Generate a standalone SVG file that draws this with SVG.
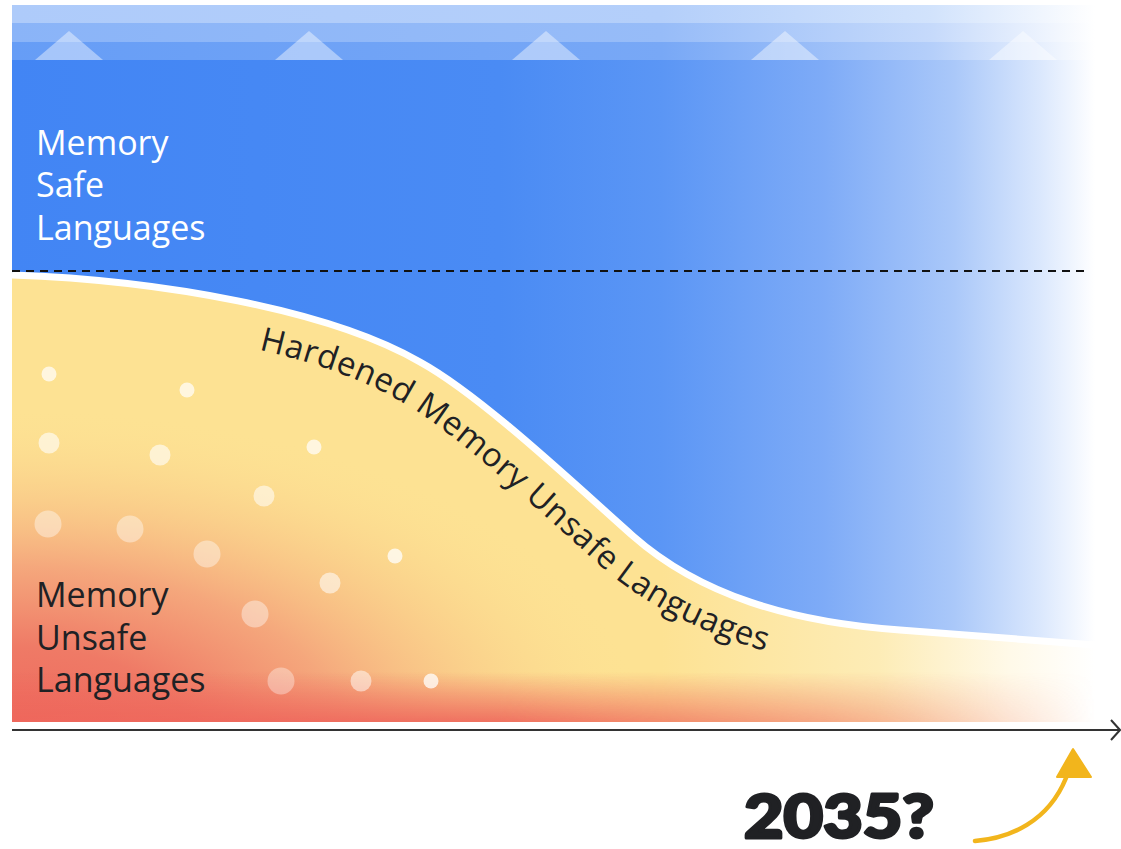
<svg xmlns="http://www.w3.org/2000/svg" width="1121" height="849" viewBox="0 0 1121 849">
  <defs>
    <style>
      .lbl { font-family: "Open Sans", "Liberation Sans", sans-serif; font-size: 34px; }
      .safe { fill: #ffffff; }
      .unsafe { fill: #202124; }
      .curve-lbl { font-family: "Open Sans", "Liberation Sans", sans-serif; font-size: 33px; fill: #202124; }
      .dot { fill: #ffffff; }
      .tri { fill: #ffffff; fill-opacity: 0.42; }
    </style>
    <!-- horizontal fades toward white on the right edge -->
    <linearGradient id="gBlue" gradientUnits="userSpaceOnUse" x1="12" y1="0" x2="1095" y2="0">
      <stop offset="0" stop-color="#4285f4"/>
      <stop offset="0.45" stop-color="#4a8bf4"/>
      <stop offset="0.6" stop-color="#5b96f5"/>
      <stop offset="0.75" stop-color="#7eabf7"/>
      <stop offset="0.87" stop-color="#aac8f9"/>
      <stop offset="0.95" stop-color="#dbe8fd"/>
      <stop offset="1" stop-color="#ffffff"/>
    </linearGradient>
    <linearGradient id="gBand1" gradientUnits="userSpaceOnUse" x1="12" y1="0" x2="1095" y2="0">
      <stop offset="0" stop-color="#aecbfa"/>
      <stop offset="0.6" stop-color="#b4cffa"/>
      <stop offset="0.85" stop-color="#d2e3fc"/>
      <stop offset="1" stop-color="#ffffff"/>
    </linearGradient>
    <linearGradient id="gBand2" gradientUnits="userSpaceOnUse" x1="12" y1="0" x2="1095" y2="0">
      <stop offset="0" stop-color="#8ab4f8"/>
      <stop offset="0.6" stop-color="#97bcf8"/>
      <stop offset="0.85" stop-color="#c6dafb"/>
      <stop offset="1" stop-color="#ffffff"/>
    </linearGradient>
    <linearGradient id="gBand3" gradientUnits="userSpaceOnUse" x1="12" y1="0" x2="1095" y2="0">
      <stop offset="0" stop-color="#669df6"/>
      <stop offset="0.6" stop-color="#78a8f6"/>
      <stop offset="0.85" stop-color="#b5cffa"/>
      <stop offset="1" stop-color="#ffffff"/>
    </linearGradient>
    <linearGradient id="gYellow" gradientUnits="userSpaceOnUse" x1="12" y1="0" x2="1095" y2="0">
      <stop offset="0" stop-color="#fde293"/>
      <stop offset="0.6" stop-color="#fde293"/>
      <stop offset="0.8" stop-color="#fdecb6"/>
      <stop offset="0.92" stop-color="#fff9e8"/>
      <stop offset="1" stop-color="#ffffff"/>
    </linearGradient>
    <radialGradient id="gWarm" gradientUnits="userSpaceOnUse" cx="12" cy="740" r="640"
                    gradientTransform="translate(12 740) scale(1 0.52) translate(-12 -740)">
      <stop offset="0" stop-color="#ee675c"/>
      <stop offset="0.28" stop-color="#ef7a66"/>
      <stop offset="0.52" stop-color="#f4a27a" stop-opacity="0.92"/>
      <stop offset="0.78" stop-color="#f9c887" stop-opacity="0.5"/>
      <stop offset="1" stop-color="#fde293" stop-opacity="0"/>
    </radialGradient>
    <linearGradient id="gRedStrip" gradientUnits="userSpaceOnUse" x1="0" y1="672" x2="0" y2="722">
      <stop offset="0" stop-color="#ee675c" stop-opacity="0"/>
      <stop offset="0.6" stop-color="#ee675c" stop-opacity="0.55"/>
      <stop offset="1" stop-color="#ee675c" stop-opacity="0.9"/>
    </linearGradient>
    <linearGradient id="gStripFade" gradientUnits="userSpaceOnUse" x1="12" y1="0" x2="1095" y2="0">
      <stop offset="0" stop-color="#ffffff"/>
      <stop offset="0.45" stop-color="#ffffff"/>
      <stop offset="0.75" stop-color="#ffffff" stop-opacity="0.55"/>
      <stop offset="0.93" stop-color="#ffffff" stop-opacity="0.15"/>
      <stop offset="1" stop-color="#ffffff" stop-opacity="0"/>
    </linearGradient>
    <mask id="mStrip" maskUnits="userSpaceOnUse" x="0" y="600" width="1121" height="140">
      <rect x="12" y="600" width="1083" height="130" fill="url(#gStripFade)"/>
    </mask>
    <!-- boundary between safe and unsafe areas -->
    <path id="boundary" d="M12,275 C160,280 330,310 420,362 C480,395 570,480 633,536 C700,595 790,622 900,630 C1000,638 1050,642 1095,645"/>
    <path id="labelLine" d="M11,319 C156,324 312,350 398,400 C451,428 541,513 604,569 C678,632 787,666 900,674"/>
    <clipPath id="cUnsafe">
      <path d="M12,275 C160,280 330,310 420,362 C480,395 570,480 633,536 C700,595 790,622 900,630 C1000,638 1050,642 1095,645 L1095,722 L12,722 Z"/>
    </clipPath>
  </defs>

  <rect width="1121" height="849" fill="#ffffff"/>

  <!-- header bands with mountain marks -->
  <g id="header">
    <rect x="12" y="5" width="1083" height="18" fill="url(#gBand1)"/>
    <rect x="12" y="23" width="1083" height="19" fill="url(#gBand2)"/>
    <rect x="12" y="42" width="1083" height="18" fill="url(#gBand3)"/>
    <polygon class="tri" points="35,60 69,31 103,60"/>
    <polygon class="tri" points="275,60 309,31 343,60"/>
    <polygon class="tri" points="512,60 546,31 580,60"/>
    <polygon class="tri" points="751,60 785,31 819,60"/>
    <polygon class="tri" points="989,60 1023,31 1057,60"/>
  </g>

  <!-- memory safe area -->
  <g id="safe-area">
    <rect x="12" y="60" width="1083" height="662" fill="url(#gBlue)"/>
    <text class="lbl safe" x="36" y="155">Memory</text>
    <text class="lbl safe" x="36" y="197">Safe</text>
    <text class="lbl safe" x="36" y="240">Languages</text>
  </g>

  <!-- memory unsafe area -->
  <g id="unsafe-area">
    <g clip-path="url(#cUnsafe)">
      <rect x="12" y="260" width="1083" height="462" fill="url(#gYellow)"/>
      <rect x="12" y="260" width="1083" height="462" fill="url(#gWarm)"/>
      <rect x="12" y="640" width="1083" height="82" fill="url(#gRedStrip)" mask="url(#mStrip)"/>
    </g>
    <g id="dots">
      <circle class="dot" cx="49" cy="374" r="7.5" fill-opacity="0.7"/>
      <circle class="dot" cx="187" cy="390" r="7.5" fill-opacity="0.7"/>
      <circle class="dot" cx="49" cy="443" r="10.5" fill-opacity="0.6"/>
      <circle class="dot" cx="160" cy="455" r="10.5" fill-opacity="0.6"/>
      <circle class="dot" cx="314" cy="447" r="7.5" fill-opacity="0.7"/>
      <circle class="dot" cx="264" cy="496" r="10.5" fill-opacity="0.55"/>
      <circle class="dot" cx="48" cy="524" r="13.5" fill-opacity="0.4"/>
      <circle class="dot" cx="130" cy="529" r="13.5" fill-opacity="0.4"/>
      <circle class="dot" cx="207" cy="554" r="13.5" fill-opacity="0.4"/>
      <circle class="dot" cx="395" cy="556" r="7.5" fill-opacity="0.75"/>
      <circle class="dot" cx="330" cy="583" r="10.5" fill-opacity="0.55"/>
      <circle class="dot" cx="255" cy="614" r="13.5" fill-opacity="0.4"/>
      <circle class="dot" cx="281" cy="681" r="13.5" fill-opacity="0.35"/>
      <circle class="dot" cx="361" cy="681" r="10.5" fill-opacity="0.5"/>
      <circle class="dot" cx="431" cy="681" r="7.5" fill-opacity="0.75"/>
    </g>
    <text class="lbl unsafe" x="36" y="607">Memory</text>
    <text class="lbl unsafe" x="36" y="650">Unsafe</text>
    <text class="lbl unsafe" x="36" y="692">Languages</text>
  </g>

  <!-- hardened boundary with its label -->
  <g id="hardened">
    <use href="#boundary" fill="none" stroke="#ffffff" stroke-width="7"/>
    <text class="curve-lbl"><textPath href="#labelLine" startOffset="250" textLength="598" lengthAdjust="spacing">Hardened Memory Unsafe Languages</textPath></text>
  </g>

  <!-- guides and axis -->
  <g id="connectors" fill="none" stroke-linecap="butt">
    <line x1="12" y1="271" x2="1090" y2="271" stroke="#111111" stroke-width="1.8" stroke-dasharray="8 6"/>
    <line x1="12" y1="730" x2="1119" y2="730" stroke="#333333" stroke-width="2"/>
    <polyline points="1111,720 1120,730 1111,740" stroke="#333333" stroke-width="2" stroke-linejoin="miter"/>
    <path d="M975,841 C1010,838 1048,822 1066,778" stroke="#f2b51c" stroke-width="4.5" stroke-linecap="round"/>
    <polygon points="1073,749 1057,777 1091,777" fill="#f2b51c" stroke="#f2b51c" stroke-width="2" stroke-linejoin="round"/>
  </g>

  <g id="year">
    <text x="744" y="838" font-family="Lato, 'Liberation Sans', sans-serif" font-weight="900" font-size="60" fill="#202124" stroke="#202124" stroke-width="3" stroke-linejoin="round" textLength="190" lengthAdjust="spacingAndGlyphs">2035?</text>
  </g>
</svg>
